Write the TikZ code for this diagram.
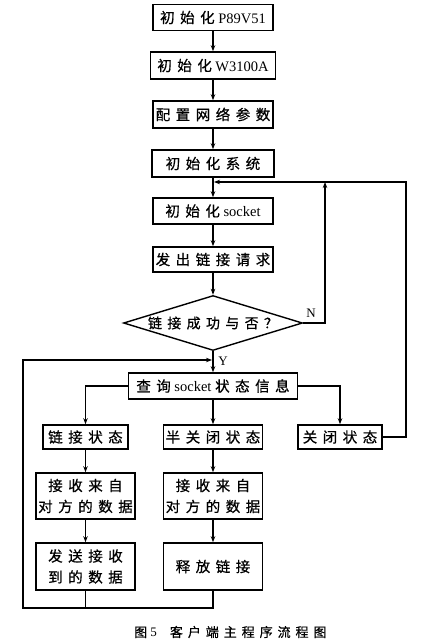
\documentclass[tikz,border=0pt]{standalone}
\usepackage{fontspec}
\setmainfont{Liberation Serif}
\newfontfamily\cjk[LetterSpace=38, FakeBold=0.6]{Noto Sans CJK SC}
\usepackage{tikz}
\usetikzlibrary{shapes.geometric, arrows.meta, positioning, calc}

\begin{document}
\begin{tikzpicture}[
    x=1pt, y=-1pt,
    stepbox/.style = {rectangle, draw=black, line width=1.6pt, align=center, inner sep=2pt, font=\fontsize{14.5}{21}\selectfont, minimum width=120pt, minimum height=26pt},
    smallbox/.style = {stepbox, minimum width=99pt, minimum height=24pt},
    twobox/.style = {stepbox, minimum width=99pt, minimum height=46pt},
    decbox/.style = {diamond, draw=black, line width=1.4pt, aspect=3.25, inner sep=0pt, minimum width=179pt, minimum height=55pt, font=\fontsize{14}{17}\selectfont},
    conn/.style = {draw=black, line width=1.6pt, -{Stealth[length=6pt,width=4.5pt]}},
    wire/.style = {draw=black, line width=1.6pt}
]
\useasboundingbox (0,0) rectangle (434,640);

% Nodes
\node (n_p89) [stepbox] at (213,17.5) {{\cjk 初始化} P89V51};
\node (n_w3100) [stepbox, minimum width=125pt, minimum height=27pt] at (213,65.5) {{\cjk 初始化} W3100A};
\node (n_net) [stepbox, minimum height=27pt] at (213,114.5) {\cjk 配置网络参数};
\node (n_sys) [stepbox, minimum width=122pt, minimum height=27pt] at (213,163.5) {\cjk 初始化系统};
\node (n_sock) [stepbox] at (213,211) {{\cjk 初始化} socket};
\node (n_req) [stepbox, minimum height=25pt] at (213,259.5) {\cjk 发出链接请求};
\node (n_dec) [decbox] at (213,323) {\cjk 链接成功与否？};
\node (n_query) [stepbox, minimum width=169pt] at (213,386) {{\cjk 查询} socket {\cjk 状态信息}};

\node (n_link) [smallbox, minimum width=85pt] at (85.5,437) {\cjk 链接状态};
\node (n_half) [smallbox] at (213,437) {\cjk 半关闭状态};
\node (n_close) [smallbox, minimum width=84pt] at (340,437) {\cjk 关闭状态};

\node (n_recv1) [twobox] at (85.5,496) {\cjk 接收来自\\\cjk 对方的数据};
\node (n_recv2) [twobox] at (213,496) {\cjk 接收来自\\\cjk 对方的数据};
\node (n_send) [twobox, minimum height=47pt] at (85.5,566.5) {\cjk 发送接收\\\cjk 到的数据};
\node (n_free) [twobox, minimum height=47pt] at (213,566.5) {\cjk 释放链接};

\node (n_caption) [anchor=west, inner sep=0pt, font=\fontsize{13}{15}\selectfont] at (134,632) {{\cjk 图} 5\quad{\cjk 客户端主程序流程图}};

% Loop points
\coordinate (c_top) at (213,182);
\coordinate (c_nright) at (325,323);
\coordinate (c_farright) at (406,437);
\coordinate (c_back) at (213,360);
\coordinate (c_left) at (23,608);

% Connections
\draw [conn] (n_p89) -- (n_w3100);
\draw [conn] (n_w3100) -- (n_net);
\draw [conn] (n_net) -- (n_sys);
\draw [conn] (n_sys) -- (n_sock);
\draw [conn] (n_sock) -- (n_req);
\draw [conn] (n_req) -- (n_dec);
\draw [conn] (n_dec) -- (n_query);

\draw [conn] (n_dec.east) -- (c_nright) -- (c_nright |- c_top);
\node (n_no) [font=\fontsize{13}{15}\selectfont] at (311,313) {N};
\node (n_yes) [font=\fontsize{13}{15}\selectfont] at (223,361) {Y};
\draw [conn] (n_close.east) -- (c_farright) -- (c_farright |- c_top) -- ([xshift=1pt]c_top);

\draw [conn] (n_query.west) -| (n_link.north);
\draw [conn] (n_query) -- (n_half);
\draw [conn] (n_query.east) -| (n_close.north);

\draw [conn] (n_link) -- (n_recv1);
\draw [conn] (n_recv1) -- (n_send);
\draw [conn] (n_half) -- (n_recv2);
\draw [conn] (n_recv2) -- (n_free);

\draw [wire] (n_send.south) -- (n_send.south |- c_left);
\draw [conn] (n_free.south) -- (n_free.south |- c_left) -- (c_left) -- (c_left |- c_back) -- ([xshift=-1pt]c_back);
\end{tikzpicture}
\end{document}
